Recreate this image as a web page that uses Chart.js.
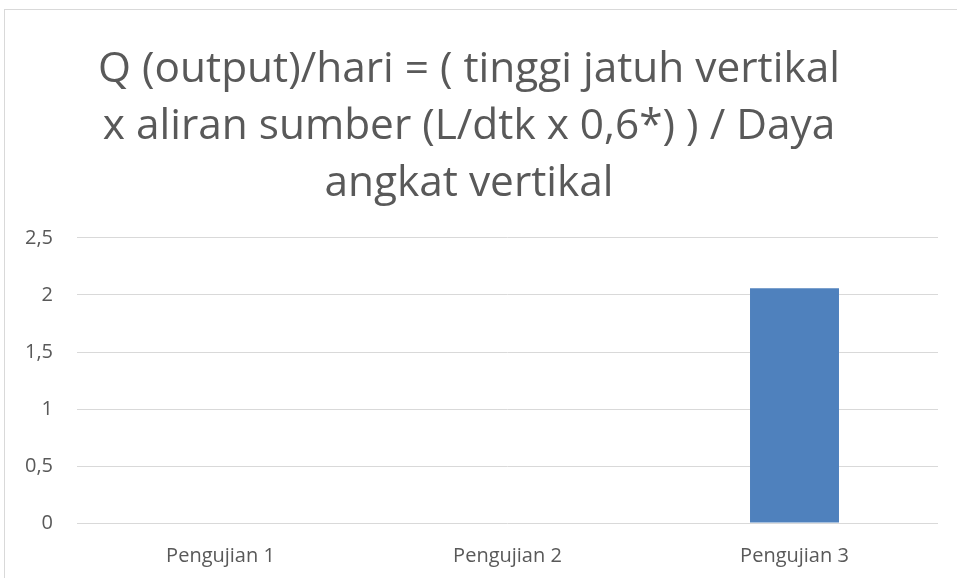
<!DOCTYPE html>
<html>
<head>
<meta charset="utf-8">
<script src="https://cdn.jsdelivr.net/npm/chart.js@4"></script>
<style>
  body { margin: 0; background: #fff; overflow: hidden; }
  #wrap { position: relative; width: 957px; height: 578px; }
  #frame { position: absolute; left: 4px; top: 9px; width: 1000px; height: 600px; border: 1px solid #d9d9d9; }
</style>
</head>
<body>
<div id="wrap">
  <div id="frame"></div>
  <canvas id="myChart" width="957" height="578"></canvas>
</div>
<script>
const categories = ['Pengujian 1', 'Pengujian 2', 'Pengujian 3'];
const values = [0.004, 0.004, 2.06];
const titleLines = [
    'Q (output)/hari = ( tinggi jatuh vertikal',
    'x aliran sumber (L/dtk x 0,6*) ) / Daya',
    'angkat vertikal'
];

// fit title size so the first line is about as wide as in the picture
const probe = document.createElement('canvas').getContext('2d');
probe.font = '40px "Open Sans"';
const titleSize = 40 * 742 / probe.measureText(titleLines[0]).width;

const ctx = document.getElementById('myChart').getContext('2d');
const myChart = new Chart(ctx, {
    type: 'bar',
    data: {
        labels: categories,
        datasets: [{
            data: values,
            backgroundColor: '#4f81bd',
            categoryPercentage: 1,
            barPercentage: 0.31
        }]
    },
    options: {
        responsive: false,
        animation: false,
        layout: { padding: { left: 0, right: 19, top: 0, bottom: 0 } },
        plugins: {
            legend: { display: false },
            tooltip: { enabled: false },
            title: {
                display: true,
                text: titleLines,
                color: '#595959',
                font: { family: 'Open Sans', size: titleSize, weight: 'normal', lineHeight: 57 / titleSize },
                padding: { top: 41, bottom: 26 }
            }
        },
        scales: {
            x: {
                grid: { display: false },
                border: { display: false },
                ticks: { color: '#595959', font: { family: 'Open Sans', size: 20 }, padding: 13 },
                afterFit: s => { s.height = 55; }
            },
            y: {
                min: 0,
                max: 2.5,
                grid: { color: '#d9d9d9', drawTicks: false },
                border: { display: false },
                ticks: {
                    stepSize: 0.5,
                    color: '#595959',
                    font: { family: 'Open Sans', size: 20 },
                    padding: 24,
                    callback: v => String(v).replace('.', ',')
                },
                afterFit: s => { s.width = 77; }
            }
        }
    }
});
</script>
</body>
</html>
